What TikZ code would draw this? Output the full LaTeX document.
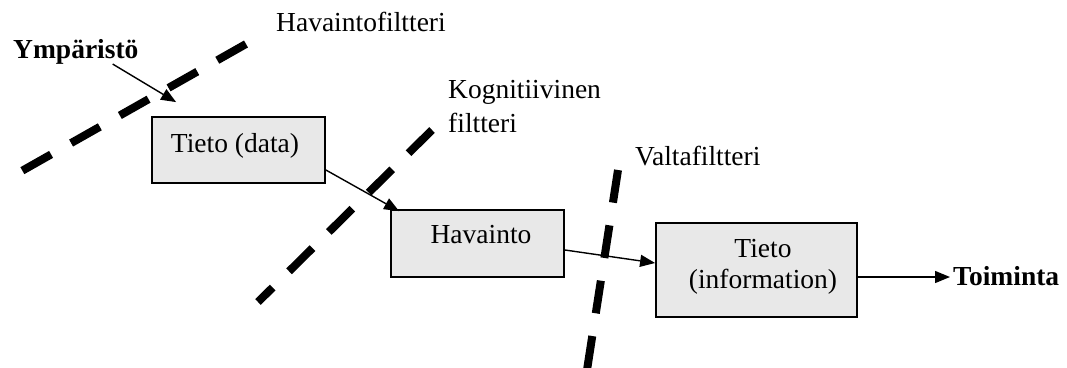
\documentclass[tikz,border=0pt]{standalone}
\usepackage{fontspec}
\setmainfont{Liberation Serif}
\usetikzlibrary{arrows.meta}
\definecolor{boxfill}{RGB}{232,232,232}
\begin{document}
\begin{tikzpicture}[x=1pt,y=-1pt,
  every node/.style={font=\fontsize{27.5}{33}\selectfont},
  box/.style={draw,line width=1.8pt,fill=boxfill,inner sep=0pt},
  txt/.style={inner sep=0pt,anchor=base},
  lbl/.style={inner sep=0pt,anchor=base west},
  arr/.style={line width=1.4pt,-{Triangle[length=15pt,width=12pt]}},
  filt/.style={line width=8pt,dash pattern=on 33pt off 23pt}]
\useasboundingbox (0,0) rectangle (1067,367);
% filter lines
\draw[filt] (246,44) -- (20,172);
\draw[filt] (432,130) -- (258,302);
\draw[filt] (618,170) -- (587,370);
% boxes
\node[box,minimum width=173pt,minimum height=66pt] (d) at (238.5,150) {};
\node[txt] (dt) at (235,152) {Tieto (data)};
\node[box,minimum width=173pt,minimum height=67pt] (h) at (477.5,243.5) {};
\node[txt] (ht) at (481,243) {Havainto};
\node[box,minimum width=201pt,minimum height=94pt] (i) at (756.5,270) {};
\node[txt] (it1) at (763,257) {Tieto};
\node[txt] (it2) at (763,288) {(information)};
% labels
\node[lbl,font=\fontsize{27.5}{33}\selectfont\bfseries] (y) at (13,58) {Ympäristö};
\node[lbl,font=\fontsize{27.5}{33}\selectfont\bfseries] (t) at (953,285) {Toiminta};
\node[lbl] (l1) at (276,31) {Havaintofiltteri};
\node[lbl] (l2a) at (448,98) {Kognitiivinen};
\node[lbl] (l2b) at (448,132) {filtteri};
\node[lbl] (l3) at (635,165) {Valtafiltteri};
% arrows
\draw[arr] ([xshift=-26pt]y.south east) -- ([xshift=25pt,yshift=14pt]d.north west);
\draw[arr] ([yshift=-20pt]d.east) -- ([xshift=9pt,yshift=-2pt]h.north west);
\draw[arr] ([yshift=-6.5pt]h.east) -- ([yshift=7pt]i.west);
\draw[arr] ([yshift=-7pt]i.east) -- ([xshift=-3pt,yshift=-7pt]i.east -| t.west);
\end{tikzpicture}
\end{document}
